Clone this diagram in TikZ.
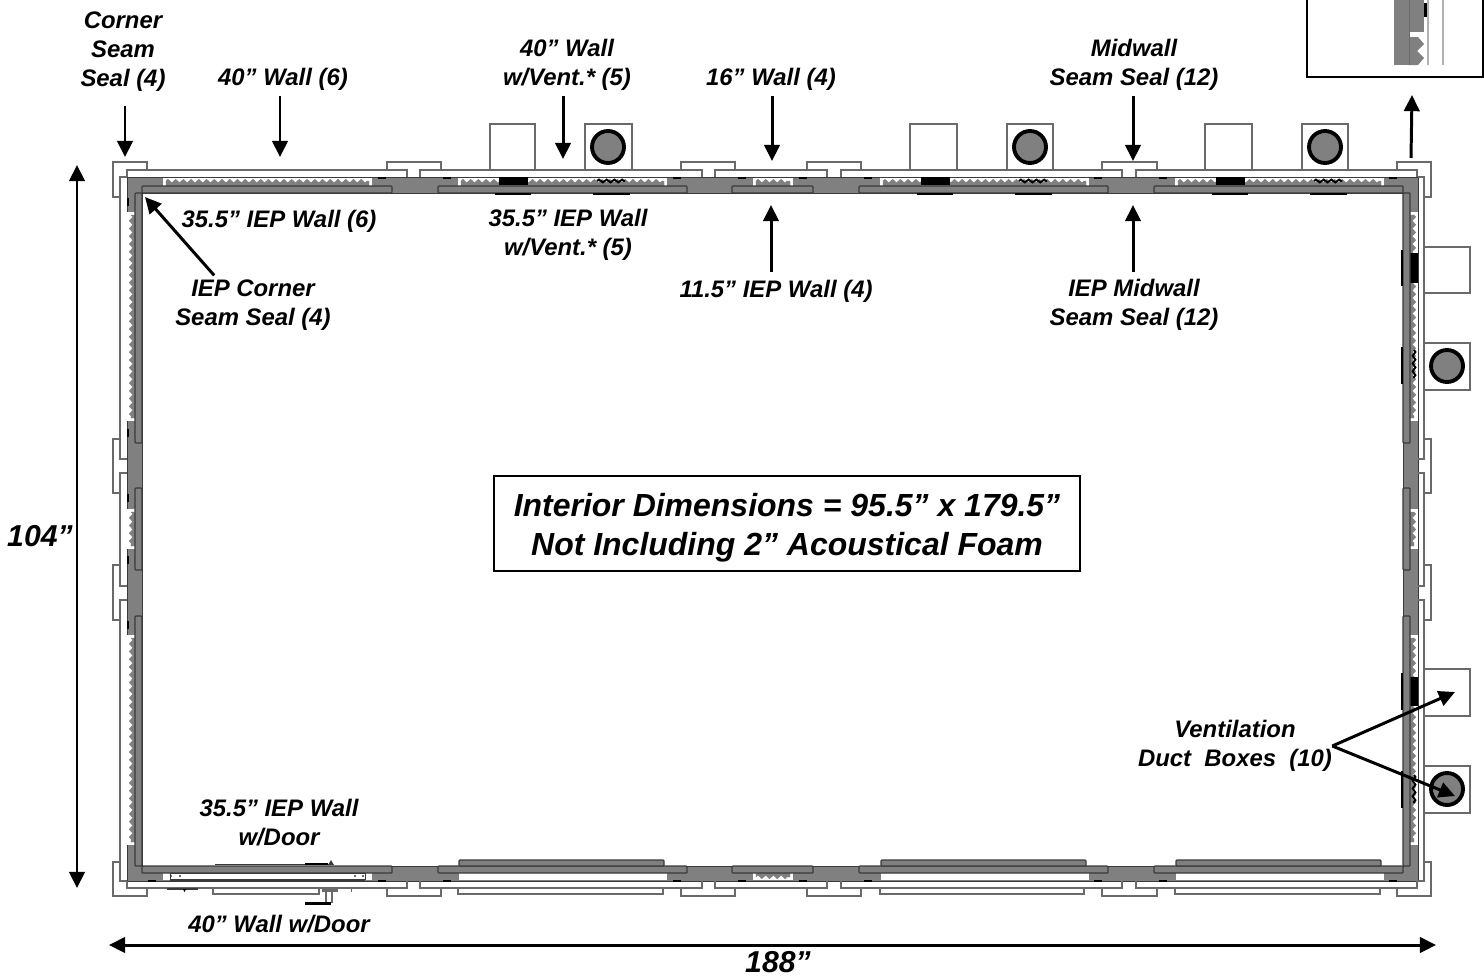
\documentclass[tikz,border=0pt]{standalone}
\usepackage{fontspec}
\setmainfont{Liberation Sans}
\usetikzlibrary{arrows.meta,decorations.pathmorphing}
\definecolor{wallgray}{HTML}{808080}
\definecolor{edgegray}{HTML}{6A6A6A}
\definecolor{paneldark}{HTML}{3A3A3A}
\tikzset{
	lbl/.style={inner sep=0pt, align=center, font=\bfseries\itshape\fontsize{13.6}{16.5}\selectfont},
	dimlbl/.style={inner sep=0pt, font=\bfseries\itshape\fontsize{17.2}{20}\selectfont},
	biglbl/.style={draw=black, line width=0.7pt, minimum width=586*0.02cm, minimum height=95*0.02cm, align=center, font=\bfseries\itshape\fontsize{18.2}{22.2}\selectfont},
	pointer/.style={line width=1.7pt, -{Triangle[length=9.2pt,width=8.8pt]}},
	span/.style={line width=1.7pt, {Triangle[length=9.2pt,width=8.8pt]}-{Triangle[length=9.2pt,width=8.8pt]}},
	strip/.style={draw=edgegray, line width=0.8pt},
	wall/.style={fill=wallgray, draw=paneldark, line width=0.5pt},
	panel/.style={fill=wallgray, draw=paneldark, line width=0.7pt, rounded corners=0.5pt},
	gap/.style={fill=white},
	foam/.style={fill=wallgray, draw=wallgray, line width=0.2pt, decoration={zigzag, segment length=4.4pt, amplitude=1pt}},
	teeth/.style={draw=black, line width=1.1pt, decorate, decoration={zigzag, segment length=4.4pt, amplitude=0.8pt}},
	vent/.style={fill=black},
	gasket/.style={draw=black, line width=0.9pt},
	duct/.style={fill=wallgray, draw=black, line width=2.2pt}
}
\begin{document}
\begin{tikzpicture}[x=0.02cm, y=-0.02cm]
	\useasboundingbox (0,0) rectangle (1484,977);

	\fill[wall, even odd rule] (127,177) rectangle (1418,881) (142,193) rectangle (1403,866);

	\draw[strip] (407,177) -- (407,170) -- (127,170) -- (127,177);
	\draw[strip] (702,177) -- (702,170) -- (420,170) -- (420,177);
	\draw[strip] (827,177) -- (827,170) -- (715,170) -- (715,177);
	\draw[strip] (1122,177) -- (1122,170) -- (841,170) -- (841,177);
	\draw[strip] (1417,177) -- (1417,170) -- (1136,170) -- (1136,177);

	\draw[strip] (407,881) -- (407,888) -- (127,888) -- (127,881);
	\draw[strip] (702,881) -- (702,888) -- (420,888) -- (420,881);
	\draw[strip] (827,881) -- (827,888) -- (715,888) -- (715,881);
	\draw[strip] (1122,881) -- (1122,888) -- (841,888) -- (841,881);
	\draw[strip] (1417,881) -- (1417,888) -- (1136,888) -- (1136,881);

	\draw[strip] (127,459) -- (120,459) -- (120,177) -- (127,177);
	\draw[strip] (127,473) -- (120,473) -- (120,586) -- (127,586);
	\draw[strip] (127,600) -- (120,600) -- (120,881) -- (127,881);
	\draw[strip] (1418,459) -- (1424,459) -- (1424,177) -- (1418,177);
	\draw[strip] (1418,473) -- (1424,473) -- (1424,586) -- (1418,586);
	\draw[strip] (1418,600) -- (1424,600) -- (1424,881) -- (1418,881);

	\draw[strip] (387,170) -- (387,162) -- (441,162) -- (441,170);
	\draw[strip] (681,170) -- (681,162) -- (735,162) -- (735,170);
	\draw[strip] (807,170) -- (807,162) -- (861,162) -- (861,170);
	\draw[strip] (1102,170) -- (1102,162) -- (1157,162) -- (1157,170);
	\draw[strip] (387,888) -- (387,896) -- (441,896) -- (441,888);
	\draw[strip] (681,888) -- (681,896) -- (735,896) -- (735,888);
	\draw[strip] (807,888) -- (807,896) -- (861,896) -- (861,888);
	\draw[strip] (1102,888) -- (1102,896) -- (1157,896) -- (1157,888);
	\draw[strip] (120,439) -- (113,439) -- (113,493) -- (120,493);
	\draw[strip] (120,565) -- (113,565) -- (113,620) -- (120,620);
	\draw[strip] (1424,439) -- (1431,439) -- (1431,493) -- (1424,493);
	\draw[strip] (1424,565) -- (1431,565) -- (1431,620) -- (1424,620);

	\draw[strip] (147,170) -- (147,162) -- (113,162) -- (113,197) -- (120,197);
	\draw[strip] (1397,170) -- (1397,162) -- (1431,162) -- (1431,197) -- (1424,197);
	\draw[strip] (147,888) -- (147,896) -- (113,896) -- (113,862) -- (120,862);
	\draw[strip] (1397,888) -- (1397,896) -- (1431,896) -- (1431,862) -- (1424,862);

	\draw[strip] (458,888) -- (458,894) -- (663,894) -- (663,888);
	\draw[strip] (880,888) -- (880,894) -- (1084,894) -- (1084,888);
	\draw[strip] (1175,888) -- (1175,894) -- (1380,894) -- (1380,888);

	\draw[strip] (490,170) -- (490,124) -- (535,124) -- (535,170);
	\draw[strip] (585,170) -- (585,124) -- (632,124) -- (632,170);
	\draw[strip] (910,170) -- (910,124) -- (957,124) -- (957,170);
	\draw[strip] (1007,170) -- (1007,124) -- (1053,124) -- (1053,170);
	\draw[strip] (1205,170) -- (1205,124) -- (1252,124) -- (1252,170);
	\draw[strip] (1302,170) -- (1302,124) -- (1348,124) -- (1348,170);
	\draw[strip] (1424,247) -- (1470,247) -- (1470,293) -- (1424,293);
	\draw[strip] (1424,343) -- (1470,343) -- (1470,390) -- (1424,390);
	\draw[strip] (1424,669) -- (1470,669) -- (1470,716) -- (1424,716);
	\draw[strip] (1424,766) -- (1470,766) -- (1470,813) -- (1424,813);

	\draw[duct] (608,147) circle [radius=16];
	\draw[duct] (1030,147) circle [radius=16];
	\draw[duct] (1325,147) circle [radius=16];
	\draw[duct] (1447,366) circle [radius=16];
	\draw[duct] (1447,789) circle [radius=16];

	\fill[gap] (163,178) rectangle (372,186);
	\fill[gap] (458,178) rectangle (667,186);
	\fill[gap] (753,178) rectangle (793,186);
	\fill[gap] (880,178) rectangle (1089,186);
	\fill[gap] (1175,178) rectangle (1384,186);
	\draw[foam] (166,186) -- (166,181) decorate {-- (369,181)} -- (369,186) -- cycle;
	\draw[foam] (461,186) -- (461,181) decorate {-- (664,181)} -- (664,186) -- cycle;
	\draw[foam] (756,186) -- (756,181) decorate {-- (790,181)} -- (790,186) -- cycle;
	\draw[foam] (883,186) -- (883,181) decorate {-- (1086,181)} -- (1086,186) -- cycle;
	\draw[foam] (1178,186) -- (1178,181) decorate {-- (1381,181)} -- (1381,186) -- cycle;
	\fill[vent] (499,177) rectangle (528,185);
	\fill[vent] (921,177) rectangle (950,185);
	\fill[vent] (1216,177) rectangle (1245,185);
	\draw[teeth] (597,181) -- (625,181);
	\draw[teeth] (1019,181) -- (1047,181);
	\draw[teeth] (1314,181) -- (1342,181);

	\fill[gap] (127,212) rectangle (135,421);
	\fill[gap] (127,509) rectangle (135,549);
	\fill[gap] (127,635) rectangle (135,845);
	\draw[foam] (135,215) -- (131,215) decorate {-- (131,418)} -- (135,418) -- cycle;
	\draw[foam] (135,512) -- (131,512) decorate {-- (131,546)} -- (135,546) -- cycle;
	\draw[foam] (135,638) -- (131,638) decorate {-- (131,842)} -- (135,842) -- cycle;

	\fill[gap] (1410,212) rectangle (1418,421);
	\fill[gap] (1410,509) rectangle (1418,549);
	\fill[gap] (1410,635) rectangle (1418,845);
	\draw[foam] (1410,215) -- (1414,215) decorate {-- (1414,418)} -- (1410,418) -- cycle;
	\draw[foam] (1410,512) -- (1414,512) decorate {-- (1414,546)} -- (1410,546) -- cycle;
	\draw[foam] (1410,638) -- (1414,638) decorate {-- (1414,842)} -- (1410,842) -- cycle;
	\fill[vent] (1410,253) rectangle (1418,283);
	\fill[vent] (1410,677) rectangle (1418,706);
	\draw[teeth] (1414,350) -- (1414,378);
	\draw[teeth] (1414,775) -- (1414,803);

	\fill[gap] (163,873) rectangle (372,880);
	\fill[gap] (459,873) rectangle (667,880);
	\fill[gap] (881,873) rectangle (1089,880);
	\fill[gap] (1176,873) rectangle (1384,880);
	\fill[gap] (753,873) rectangle (793,880);
	\draw[foam] (756,873) -- (756,877) decorate {-- (790,877)} -- (790,873) -- cycle;

	\draw[panel] (142,186) rectangle (392,193);
	\draw[panel] (438,186) rectangle (687,193);
	\draw[panel] (732,186) rectangle (813,193);
	\draw[panel] (859,186) rectangle (1108,193);
	\draw[panel] (1154,186) rectangle (1403,193);
	\draw[panel] (142,866) rectangle (392,873);
	\draw[panel] (438,866) rectangle (687,873);
	\draw[panel] (732,866) rectangle (813,873);
	\draw[panel] (859,866) rectangle (1108,873);
	\draw[panel] (1154,866) rectangle (1403,873);
	\draw[panel] (459,860) rectangle (664,866);
	\draw[panel] (881,860) rectangle (1086,866);
	\draw[panel] (1176,860) rectangle (1381,866);
	\draw[panel] (135,193) rectangle (142,443);
	\draw[panel] (135,488) rectangle (142,570);
	\draw[panel] (135,616) rectangle (142,866);
	\draw[panel] (1403,193) rectangle (1410,443);
	\draw[panel] (1403,488) rectangle (1410,570);
	\draw[panel] (1403,616) rectangle (1410,866);

	\draw[gasket] (378,178) -- (386,178);
	\draw[gasket] (443,178) -- (451,178);
	\draw[gasket] (673,178) -- (681,178);
	\draw[gasket] (738,178) -- (746,178);
	\draw[gasket] (799,178) -- (807,178);
	\draw[gasket] (864,178) -- (872,178);
	\draw[gasket] (1094,178) -- (1102,178);
	\draw[gasket] (1159,178) -- (1167,178);
	\draw[gasket] (1389,178) -- (1397,178);
	\draw[gasket] (148,881) -- (156,881);
	\draw[gasket] (378,881) -- (386,881);
	\draw[gasket] (443,881) -- (451,881);
	\draw[gasket] (673,881) -- (681,881);
	\draw[gasket] (738,881) -- (746,881);
	\draw[gasket] (799,881) -- (807,881);
	\draw[gasket] (864,881) -- (872,881);
	\draw[gasket] (1094,881) -- (1102,881);
	\draw[gasket] (1159,881) -- (1167,881);
	\draw[gasket] (1389,881) -- (1397,881);
	\draw[gasket] (128,198) -- (128,206);
	\draw[gasket] (128,429) -- (128,437);
	\draw[gasket] (128,494) -- (128,502);
	\draw[gasket] (128,556) -- (128,564);
	\draw[gasket] (128,621) -- (128,629);

	\draw[gasket] (495,194) -- (531,194);
	\draw[gasket] (593,194) -- (630,194);
	\draw[gasket] (917,194) -- (953,194);
	\draw[gasket] (1015,194) -- (1052,194);
	\draw[gasket] (1212,194) -- (1248,194);
	\draw[gasket] (1310,194) -- (1347,194);
	\draw[gasket] (1402,250) -- (1402,286);
	\draw[gasket] (1402,347) -- (1402,384);
	\draw[gasket] (1402,673) -- (1402,710);
	\draw[gasket] (1402,771) -- (1402,808);

	\draw[paneldark, line width=1.1pt] (170,873.5) -- (365,873.5);
	\draw[paneldark, line width=0.8pt] (170,880) -- (365,880);
	\draw[paneldark, line width=0.5pt] (170,873) -- (170,880);
	\draw[paneldark, line width=0.5pt] (365,873) -- (365,880);
	\fill[paneldark] (171,876) circle [radius=1.2];
	\fill[paneldark] (180,876) circle [radius=1.2];
	\fill[paneldark] (355,876) circle [radius=1.2];
	\fill[paneldark] (363,876) circle [radius=1.2];
	\draw[paneldark, line width=0.9pt] (215,864.5) -- (330,864.5);
	\draw[black, line width=1.4pt] (305,864) -- (328,864);
	\fill[paneldark] (328,865) -- (331,860) -- (334,865) -- cycle;
	\draw[paneldark, line width=0.8pt] (167,889) -- (198,889);
	\fill[black] (183,889) -- (186,889) -- (184.5,892) -- cycle;
	\draw[strip] (213,888) -- (213,894) -- (319,894) -- (319,888);
	\fill[edgegray] (322,889) rectangle (338,892);
	\draw[edgegray, line width=1pt] (326,892) -- (326,903);
	\draw[edgegray, line width=1pt] (332,892) -- (332,903);
	\draw[black, line width=1.2pt] (305,903.5) -- (331,903.5);
	\fill[edgegray] (350.5,889) rectangle (352,892);

	\fill[wallgray] (1394,0) rectangle (1409,65);
	\fill[wallgray] (1409,0) rectangle (1424,32);
	\fill[wallgray] (1409,37) -- (1418,37) -- (1424,44) -- (1417,51) -- (1424,58) -- (1418,65) -- (1409,65) -- cycle;
	\draw[edgegray, line width=0.5pt] (1409,0) -- (1409,65);
	\fill[black] (1424,3) rectangle (1428,17);
	\draw[black!30, line width=0.6pt] (1428,0) -- (1428,65);
	\draw[black!30, line width=0.6pt] (1443,0) -- (1443,65);
	\draw[line width=0.8pt] (1307,0) -- (1307,77) -- (1483,77) -- (1483,0);

	\node[lbl] (cornerLbl) at (123,52) {Corner\\Seam\\Seal (4)};
	\node[lbl] (wallLbl) at (283,79) {40” Wall (6)};
	\node[lbl] (ventWallLbl) at (567,65) {40” Wall\\w/Vent.* (5)};
	\node[lbl] (shortWallLbl) at (771,79) {16” Wall (4)};
	\node[lbl] (midWallLbl) at (1134,65) {Midwall\\Seam Seal (12)};
	\node[lbl] (iepWallLbl) at (279,221) {35.5” IEP Wall (6)};
	\node[lbl] (iepVentLbl) at (568,235) {35.5” IEP Wall\\w/Vent.* (5)};
	\node[lbl] (iepShortLbl) at (776,291) {11.5” IEP Wall (4)};
	\node[lbl] (iepCornerLbl) at (253,305) {IEP Corner\\Seam Seal (4)};
	\node[lbl] (iepMidLbl) at (1134,305) {IEP Midwall\\Seam Seal (12)};
	\node[lbl] (iepDoorLbl) at (279,823) {35.5” IEP Wall\\w/Door};
	\node[lbl] (doorLbl) at (279,924) {40” Wall w/Door};
	\node[lbl] (ductLbl) at (1235,746) {Ventilation\\Duct\ \ Boxes\ \ (10)};
	\node[dimlbl] (heightLbl) at (40,536) {104”};
	\node[dimlbl] (widthLbl) at (778,962) {188”};
	\node[biglbl] (interiorLbl) at (787,523.5) {\rule{0pt}{17.6pt}Interior Dimensions = 95.5” x 179.5”\\Not Including 2” Acoustical Foam};

	\coordinate (cornerTip) at (125,157);
	\coordinate (wallTip) at (280,157);
	\coordinate (ventWallTip) at (563,159);
	\coordinate (shortWallTip) at (772,161);
	\coordinate (midWallTip) at (1133,161);
	\coordinate (iepShortTip) at (771,205);
	\coordinate (iepMidTip) at (1133,205);
	\coordinate (iepCornerTip) at (145,197);
	\coordinate (capTail) at (1411,158);
	\coordinate (insetTip) at (1412,95);
	\coordinate (ductBlankTip) at (1455,692);
	\coordinate (ductRoundTip) at (1455,796);
	\coordinate (heightTop) at (77,165);
	\coordinate (heightBottom) at (77,888);
	\coordinate (widthLeft) at (109,945);
	\coordinate (widthRight) at (1436,945);

	\draw[pointer, shorten <=8pt] (cornerLbl.south -| cornerTip) -- (cornerTip);
	\draw[pointer, shorten <=3pt] (wallLbl.south -| wallTip) -- (wallTip);
	\draw[pointer, shorten <=3pt] (ventWallLbl.south -| ventWallTip) -- (ventWallTip);
	\draw[pointer, shorten <=3pt] (shortWallLbl.south -| shortWallTip) -- (shortWallTip);
	\draw[pointer, shorten <=3pt] (midWallLbl.south -| midWallTip) -- (midWallTip);
	\draw[pointer, shorten <=4pt] (iepShortLbl.north -| iepShortTip) -- (iepShortTip);
	\draw[pointer, shorten <=4pt] (iepMidLbl.north -| iepMidTip) -- (iepMidTip);
	\draw[pointer, shorten <=3pt] (iepCornerLbl.144) -- (iepCornerTip);
	\draw[pointer] (capTail) -- (insetTip);
	\draw[pointer] (ductLbl.east) -- (ductBlankTip);
	\draw[pointer] (ductLbl.east) -- (ductRoundTip);
	\draw[span] (heightTop) -- (heightBottom);
	\draw[span] (widthLeft) -- (widthRight);

\end{tikzpicture}
\end{document}
